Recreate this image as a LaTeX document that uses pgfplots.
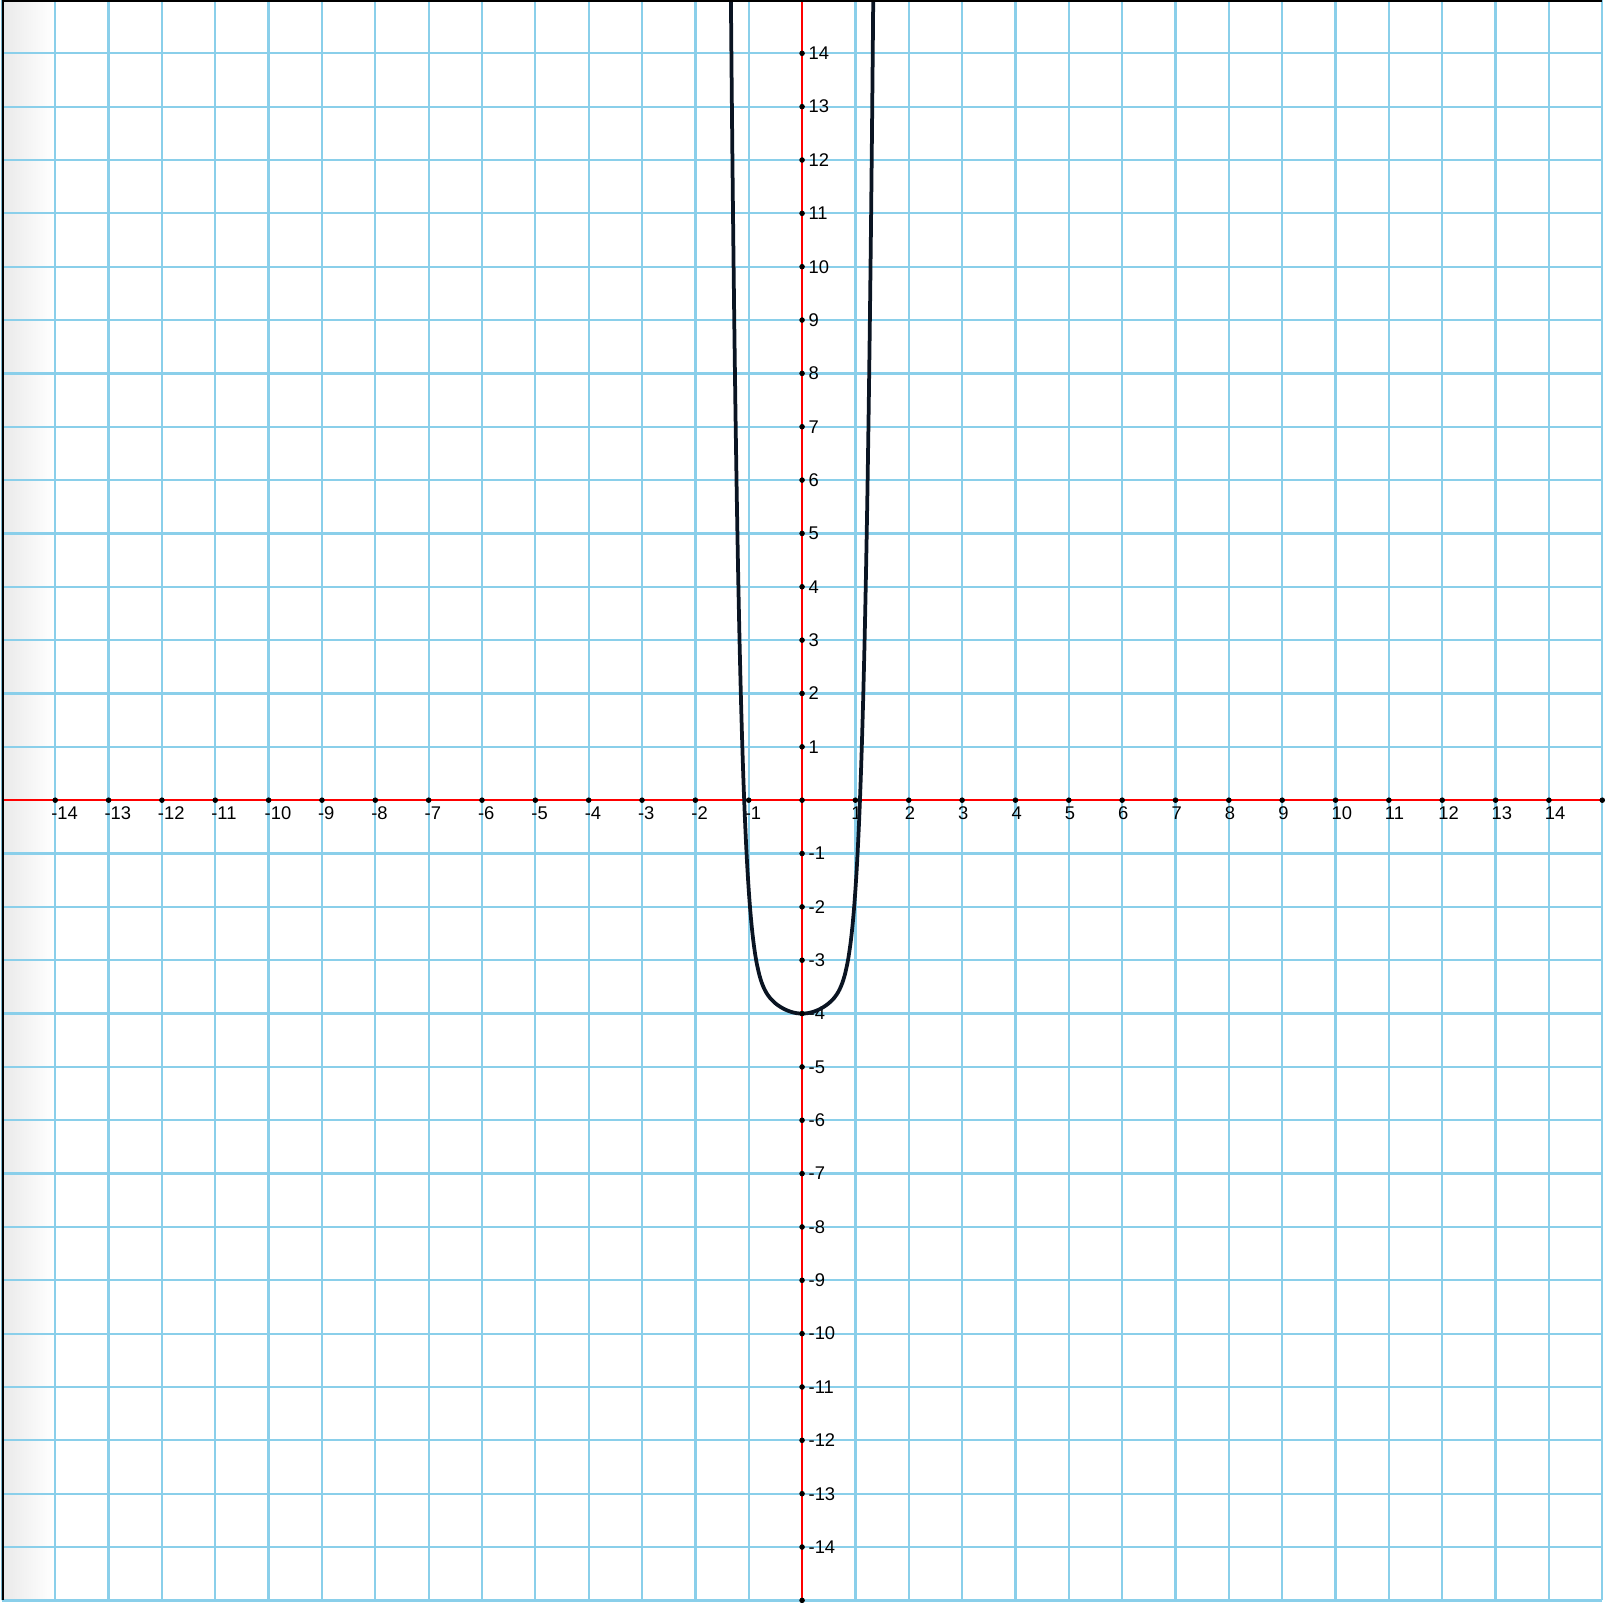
\documentclass[border=0pt]{standalone}
\usepackage{pgfplots}
\pgfplotsset{compat=1.18}
\usepackage{fontspec}
\setmainfont{Liberation Sans}
\definecolor{gridblue}{RGB}{138,207,234}
\definecolor{curvecol}{RGB}{10,20,34}
\definecolor{shadegray}{RGB}{233,233,233}
\begin{document}
\begin{tikzpicture}
\begin{axis}[
  set layers,
  x=1cm, y=1cm,
  xmin=-15, xmax=15, ymin=-15, ymax=15,
  axis lines=middle,
  axis line style={red, line width=0.9pt, -},
  xtick={-15,...,15}, ytick={-15,...,15},
  xticklabels={,-14,-13,-12,-11,-10,-9,-8,-7,-6,-5,-4,-3,-2,-1,,1,2,3,4,5,6,7,8,9,10,11,12,13,14,},
  yticklabels={,-14,-13,-12,-11,-10,-9,-8,-7,-6,-5,-4,-3,-2,-1,,1,2,3,4,5,6,7,8,9,10,11,12,13,14,},
  major tick length=0pt,
  grid=major,
  major grid style={gridblue, line width=1.2pt},
  xticklabel style={anchor=north west, inner sep=0pt, xshift=-2.3pt, yshift=-3.5pt, font=\fontsize{9.8}{11}\selectfont},
  yticklabel style={anchor=west, inner sep=0pt, xshift=3.3pt, font=\fontsize{9.8}{11}\selectfont},
  clip=true,
]
\begin{pgfonlayer}{axis background}
\fill[left color=shadegray, right color=white] (axis cs:-15,-15) rectangle (axis cs:-14.05,15);
\end{pgfonlayer}
\addplot[only marks, mark=*, mark size=1.25pt, black] coordinates {
(-14,0)(-13,0)(-12,0)(-11,0)(-10,0)(-9,0)(-8,0)(-7,0)(-6,0)(-5,0)(-4,0)(-3,0)(-2,0)(-1,0)(0,0)
(1,0)(2,0)(3,0)(4,0)(5,0)(6,0)(7,0)(8,0)(9,0)(10,0)(11,0)(12,0)(13,0)(14,0)(15,0)
(0,-15)(0,-14)(0,-13)(0,-12)(0,-11)(0,-10)(0,-9)(0,-8)(0,-7)(0,-6)(0,-5)(0,-4)(0,-3)(0,-2)(0,-1)
(0,1)(0,2)(0,3)(0,4)(0,5)(0,6)(0,7)(0,8)(0,9)(0,10)(0,11)(0,12)(0,13)(0,14)
};
\addplot[curvecol, line width=2pt, smooth] coordinates {
(-1.35,16.895)(-1.325,14.009)(-1.3,11.491)(-1.275,9.303)(-1.25,7.403)(-1.225,5.760)
(-1.2,4.342)(-1.175,3.121)(-1.15,2.071)(-1.125,1.172)(-1.1,0.404)(-1.075,-0.251)(-1.05,-0.808)
(-1.025,-1.280)(-1,-1.680)(-0.975,-2.018)(-0.95,-2.303)(-0.925,-2.543)(-0.9,-2.745)(-0.875,-2.914)
(-0.85,-3.057)(-0.8,-3.279)(-0.75,-3.438)(-0.7,-3.554)(-0.65,-3.641)(-0.6,-3.709)
(-0.5,-3.808)(-0.4,-3.879)(-0.3,-3.932)(-0.2,-3.970)(-0.1,-3.993)(0,-4)
(0.1,-3.993)(0.2,-3.970)(0.3,-3.932)(0.4,-3.879)(0.5,-3.808)
(0.6,-3.709)(0.65,-3.641)(0.7,-3.554)(0.75,-3.438)(0.8,-3.279)(0.85,-3.057)
(0.875,-2.914)(0.9,-2.745)(0.925,-2.543)(0.95,-2.303)(0.975,-2.018)(1,-1.680)(1.025,-1.280)
(1.05,-0.808)(1.075,-0.251)(1.1,0.404)(1.125,1.172)(1.15,2.071)(1.175,3.121)(1.2,4.342)
(1.225,5.760)(1.25,7.403)(1.275,9.303)(1.3,11.491)(1.325,14.009)(1.35,16.895)
};
\draw[black, line width=2pt] (axis cs:-15,-15) -- (axis cs:-15,15) -- (axis cs:15,15);
\end{axis}
\pgfresetboundingbox
\path ([xshift=-1pt,yshift=-1pt]current axis.south west) rectangle ([xshift=2pt]current axis.north east);
\end{tikzpicture}
\end{document}
